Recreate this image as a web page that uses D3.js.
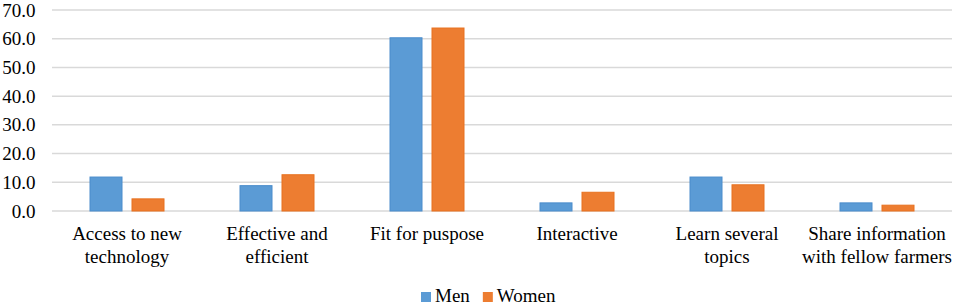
<!DOCTYPE html>
<html lang="en">
<head>
    <meta charset="UTF-8">
    <title>Chart</title>
    <style>
        body { margin: 0; background: #fff; }
    </style>
</head>
<body>
    <svg width="957" height="306" id="svg"></svg>
    <script src="https://d3js.org/d3.v7.min.js"></script>
    <script>
        const categories = [
            ["Access to new", "technology"],
            ["Effective and", "efficient"],
            ["Fit for puspose"],
            ["Interactive"],
            ["Learn several", "topics"],
            ["Share information", "with fellow farmers"]
        ]
        const seriesNames = ["Men", "Women"]
        const men = [12.0, 9.0, 60.5, 3.0, 12.0, 3.0]
        const women = [4.4, 12.8, 63.9, 6.7, 9.3, 2.2]
        const yTicks = [0, 10, 20, 30, 40, 50, 60, 70]

        const colors = { Men: "#5B9BD5", Women: "#ED7D31" }
        const strokes = { Men: "#4a8ccc", Women: "#e8711f" }
        const serif = '"Liberation Serif"'
        const fontSize = "19px"

        const svg = d3.select("svg#svg")
        const padding = { top: 10, left: 52, right: 5 }
        const width = +svg.attr("width")
        const innerWidth = width - padding.left - padding.right

        const data = categories.map((c, i) => ({ key: i, label: c, Men: men[i], Women: women[i] }))

        const xScale = d3.scaleBand().domain(d3.range(categories.length)).range([0, innerWidth])
        const half = 37.5
        const xInner = d3.scaleBand().domain(seriesNames)
            .range([xScale.bandwidth() / 2 - half, xScale.bandwidth() / 2 + half]).paddingInner(9 / 42)
        const yScale = d3.scaleLinear().domain([0, 70]).range([201, 0])

        const g = svg.append("g").attr("transform", `translate(${padding.left}, ${padding.top})`)

        // gridlines
        g.append("g").selectAll("line").data(yTicks).enter().append("line")
            .attr("x1", 0).attr("x2", innerWidth)
            .attr("y1", d => yScale(d)).attr("y2", d => yScale(d))
            .attr("stroke", "#d9d9d9").attr("stroke-width", 1.5)

        // y axis labels
        const yAxis = d3.axisLeft(yScale).tickValues(yTicks).tickFormat(d3.format(".1f")).tickSize(0).tickPadding(16.5)
        const ya = g.append("g").call(yAxis)
        ya.select(".domain").remove()
        ya.selectAll("text").attr("fill", "#000")
            .style("font-family", serif).style("font-size", fontSize)

        // bars
        const groups = g.append("g").selectAll("g").data(data).enter().append("g")
            .attr("transform", d => `translate(${xScale(d.key)}, 0)`)
        groups.selectAll("rect").data(d => seriesNames.map(s => ({ s: s, v: d[s] }))).enter().append("rect")
            .attr("x", d => xInner(d.s) + 0.5)
            .attr("width", xInner.bandwidth() - 1)
            .attr("y", d => yScale(d.v) + 0.5)
            .attr("height", d => yScale(0) - yScale(d.v) - 0.5)
            .attr("fill", d => colors[d.s])
            .attr("stroke", d => strokes[d.s])
            .attr("stroke-width", 1)

        // category labels
        const xAxis = d3.axisBottom(xScale).tickSize(0).tickFormat("")
        const xa = g.append("g").attr("transform", `translate(0, ${yScale(0)})`).call(xAxis)
        xa.select(".domain").remove()
        xa.selectAll(".tick").each(function (i) {
            const t = d3.select(this).append("text")
                .attr("text-anchor", "middle").attr("fill", "#000")
                .style("font-family", serif).style("font-size", fontSize)
            categories[i].forEach((line, k) => {
                t.append("tspan").attr("x", 0).attr("y", 29 + k * 22.5).text(line)
            })
        })

        // legend
        const legend = svg.append("g").attr("transform", `translate(421, 302)`)
        let lx = 0
        seriesNames.forEach(s => {
            legend.append("rect").attr("x", lx).attr("y", -10).attr("width", 10).attr("height", 10).attr("fill", colors[s])
            const t = legend.append("text").attr("x", lx + 14).attr("y", 0)
                .style("font-family", serif).style("font-size", fontSize).text(s)
            lx += 14 + t.node().getComputedTextLength() + 13
        })
    </script>
</body>
</html>
